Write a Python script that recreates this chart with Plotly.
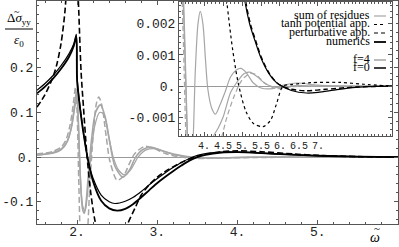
import plotly.graph_objects as go

# ---------------- main panel data (omega, delta sigma / eps0) ----------------
w_num0 = [1.5, 1.6, 1.7, 1.8, 1.9, 1.96, 1.99, 2.0, 2.05, 2.1, 2.14, 2.2, 2.3, 2.4, 2.5, 2.6, 2.7, 2.8,
          2.9, 3.0, 3.1, 3.2, 3.3, 3.4, 3.5, 3.6, 3.8, 4.0, 4.3, 4.6, 5.0, 5.5, 6.0]
v_num0 = [0.143, 0.158, 0.176, 0.198, 0.225, 0.250, 0.270, 0.170, 0.090, 0.030, -0.010, -0.055, -0.098,
          -0.115, -0.120, -0.116, -0.105, -0.090, -0.074, -0.058, -0.044, -0.031, -0.019, -0.008, 0.0,
          0.005, 0.010, 0.011, 0.009, 0.006, 0.003, 0.001, 0.0]

w_res0 = [1.5, 1.6, 1.7, 1.8, 1.9, 1.96, 1.99, 2.0, 2.05, 2.1, 2.14, 2.2, 2.3, 2.4, 2.47, 2.6, 2.7, 2.8,
          2.9, 3.0, 3.1, 3.2, 3.3, 3.4, 3.5, 3.7, 3.9, 4.2, 4.6, 5.0, 5.5, 6.0]
v_res0 = [0.150, 0.165, 0.183, 0.205, 0.232, 0.255, 0.275, 0.180, 0.095, 0.030, -0.010, -0.048, -0.085,
          -0.100, -0.104, -0.099, -0.090, -0.077, -0.062, -0.048, -0.035, -0.023, -0.012, -0.003, 0.004,
          0.010, 0.012, 0.010, 0.006, 0.003, 0.001, 0.0]

w_pert0 = [1.5, 1.6, 1.7, 1.75, 1.8, 1.85, 1.9, 1.95, 2.0, 2.02, 2.05, 2.08, 2.12, 2.17, 2.22, 2.3, 2.42,
           2.52, 2.63, 2.72, 2.8, 2.9, 3.0, 3.1, 3.3, 3.5, 3.8, 4.0, 4.3, 4.7, 5.0, 5.5, 6.0]
v_pert0 = [0.112, 0.140, 0.180, 0.210, 0.255, 0.330, 0.500, 0.800, 0.420, 0.330, 0.190, 0.110, 0.010,
           -0.080, -0.140, -0.200, -0.230, -0.210, -0.150, -0.115, -0.085, -0.062, -0.045, -0.032,
           -0.012, 0.002, 0.012, 0.014, 0.012, 0.007, 0.004, 0.001, 0.0]

w_num4 = [1.5, 1.6, 1.7, 1.8, 1.86, 1.92, 1.96, 1.99, 2.01, 2.03, 2.05, 2.07, 2.09, 2.11, 2.14, 2.18, 2.23,
          2.29, 2.35, 2.41, 2.47, 2.57, 2.65, 2.73, 2.82, 2.93, 3.05, 3.2, 3.35, 3.5, 3.7, 4.0, 4.5, 5.0, 6.0]
v_num4 = [0.005, 0.007, 0.010, 0.018, 0.030, 0.060, 0.105, 0.145, 0.100, 0.0, -0.080, -0.118, -0.126,
          -0.105, -0.040, 0.040, 0.100, 0.117, 0.090, 0.030, -0.020, -0.045, -0.030, 0.0, 0.017, 0.022,
          0.015, 0.007, 0.002, -0.001, -0.002, -0.001, 0.0, 0.0, 0.0]

w_res4 = [1.5, 1.7, 1.8, 1.88, 1.94, 1.98, 2.0, 2.02, 2.04, 2.07, 2.1, 2.13, 2.17, 2.22, 2.28, 2.33, 2.39,
          2.45, 2.52, 2.6, 2.68, 2.76, 2.86, 2.97, 3.1, 3.25, 3.4, 3.6, 3.9, 4.3, 5.0, 6.0]
v_res4 = [0.004, 0.009, 0.016, 0.035, 0.075, 0.120, 0.130, 0.060, -0.040, -0.110, -0.120, -0.080, 0.0,
          0.070, 0.100, 0.097, 0.050, 0.0, -0.030, -0.040, -0.025, 0.0, 0.016, 0.019, 0.012, 0.004,
          0.0, -0.002, -0.001, 0.0, 0.0, 0.0]

w_pert4 = [1.5, 1.6, 1.7, 1.8, 1.86, 1.91, 1.95, 1.98, 2.0, 2.02, 2.04, 2.07, 2.1, 2.13, 2.16, 2.2, 2.24,
           2.27, 2.31, 2.36, 2.41, 2.5, 2.58, 2.65, 2.72, 2.84, 2.95, 3.1, 3.3, 3.5, 3.8, 4.2, 5.0, 6.0]
v_pert4 = [0.007, 0.009, 0.013, 0.022, 0.038, 0.070, 0.115, 0.157, 0.100, -0.050, -0.180, -0.260, -0.250,
           -0.170, -0.060, 0.050, 0.120, 0.135, 0.115, 0.050, -0.010, -0.052, -0.042, -0.015, 0.008,
           0.024, 0.020, 0.008, 0.0, -0.003, -0.002, -0.001, 0.0, 0.0]

# ---------------- inset data ----------------
iw_num0 = [4.9, 5.08, 5.2, 5.34, 5.5, 5.7, 5.9, 6.05, 6.3, 6.7, 7.0, 7.5, 8.0, 8.5, 9.0]
iv_num0 = [0.0045, 0.0027, 0.0020, 0.00146, 0.0009, 0.00042, 0.00012, 0.0, -0.00014, -0.00022, -0.0002,
           -0.00011, -0.00004, -0.00001, 0.0]
iw_pert0 = [4.92, 5.1, 5.22, 5.36, 5.5, 5.7, 5.9, 6.05, 6.3, 6.7, 7.2, 8.0, 9.0]
iv_pert0 = [0.0045, 0.0027, 0.0020, 0.00146, 0.00095, 0.00045, 0.00013, 0.0, -0.0001, -0.00015, -0.0001,
            -0.00003, 0.0]
iw_tanh0 = [4.45, 4.6, 4.75, 4.9, 5.1, 5.3, 5.55, 5.75, 5.9, 6.08, 6.3, 6.8, 7.6, 8.2, 9.0]
iv_tanh0 = [0.0045, 0.0027, 0.0012, 0.0001, -0.0008, -0.0012, -0.0013, -0.0011, -0.0006, 0.0, 0.00005,
            0.00011, 0.00012, 0.00006, 0.0]
iw_res4 = [3.40, 3.47, 3.52, 3.57, 3.64, 3.71, 3.77, 3.84, 3.9, 3.97, 4.04, 4.1, 4.2, 4.3, 4.42, 4.55, 4.7,
           4.85, 4.97, 5.1, 5.3, 5.5, 5.8, 6.1, 6.45, 7.0, 8.0, 9.0]
iv_res4 = [0.0045, 0.0020, 0.0, -0.0020, -0.0032, -0.0018, 0.0005, 0.0020, 0.0024, 0.0020, 0.0008, -0.0001,
           -0.0007, -0.0009, -0.0006, -0.0002, 0.0003, 0.00052, 0.00057, 0.00045, 0.0001, -0.00006,
           -0.00008, 0.00003, 0.0001, 0.00003, 0.0, 0.0]
iw_num4 = [3.42, 3.5, 3.56, 3.62, 3.75, 3.95, 4.15, 4.25, 4.37, 4.5, 4.7, 4.85, 5.05, 5.2, 5.4, 5.65, 5.95,
           6.4, 7.0, 9.0]
iv_num4 = [0.0045, 0.0012, -0.0015, -0.0032, -0.0040, -0.0032, -0.0020, -0.0016, -0.00135, -0.0010,
           -0.0002, 0.0001, 0.0004, 0.00045, 0.0003, 0.00005, -0.00005, 0.00002, 0.0, 0.0]
iw_pert4 = [3.38, 3.46, 3.52, 3.58, 3.7, 3.9, 4.15, 4.35, 4.47, 4.6, 4.8, 5.0, 5.2, 5.35, 5.6, 5.9, 6.3,
            7.0, 9.0]
iv_pert4 = [0.0045, 0.0012, -0.0016, -0.0035, -0.0045, -0.0042, -0.0030, -0.0020, -0.0016, -0.0010,
            -0.0003, 0.0002, 0.0004, 0.00038, 0.0001, -0.00008, -0.00002, 0.0, 0.0]

main_xticks = [2, 3, 4, 5]
main_xtext = ["2.", "3.", "4.", "5."]
main_yticks = [-0.1, 0.0, 0.1, 0.2]
main_ytext = ["-0.1", "0.", "0.1", "0.2"]
ins_xticks = [4, 4.5, 5, 5.5, 6, 6.5, 7]
ins_xtext = ["4.", "4.5", "5.", "5.5", "6.", "6.5", "7."]
ins_yticks = [-0.001, 0.0, 0.001, 0.002]
ins_ytext = ["-0.001", "0.", "0.001", "0.002"]

legend_labels = ["sum of residues", "tanh potential app.", "perturbative app.", "numerics", "f=4", "f=0"]

GREY = "#a6a6a6"
BLACK = "#000000"

W, H = 399, 247
L, R, T, B = 37, 1, 1, 23
PW, PH = W - L - R, H - T - B


def px(xp):
    return (xp - L) / PW


def py(yp):
    return (H - B - yp) / PH


fig = go.Figure()


def add(x, y, color, width, dash, ax):
    fig.add_trace(go.Scatter(
        x=x, y=y, mode="lines", showlegend=False, hoverinfo="skip",
        xaxis="x" if ax == 1 else "x2", yaxis="y" if ax == 1 else "y2",
        line=dict(color=color, width=width, dash=dash, shape="spline", smoothing=0.8)))


# main
add(w_res4, v_res4, GREY, 1.3, "solid", 1)
add(w_num4, v_num4, GREY, 1.6, "solid", 1)
add(w_pert4, v_pert4, GREY, 1.5, "6px,3px", 1)
add(w_res0, v_res0, BLACK, 1.2, "solid", 1)
add(w_num0, v_num0, BLACK, 1.8, "solid", 1)
add(w_pert0, v_pert0, BLACK, 1.6, "6px,3px", 1)
# inset
add(iw_res4, iv_res4, GREY, 1.2, "solid", 2)
add(iw_num4, iv_num4, GREY, 1.2, "solid", 2)
add(iw_pert4, iv_pert4, GREY, 1.2, "5px,3px", 2)
add(iw_tanh0, iv_tanh0, BLACK, 1.2, "dot", 2)
add(iw_pert0, iv_pert0, BLACK, 1.4, "5px,3px", 2)
add(iw_num0, iv_num0, BLACK, 1.2, "solid", 2)

mono = "Liberation Mono, Courier New, monospace"
axcommon = dict(showline=True, linecolor="#555", linewidth=1, mirror="allticks", ticks="inside",
                ticklen=4, tickcolor="#555", showgrid=False, automargin=False)

fig.update_layout(
    template="none",
    width=W, height=H, margin=dict(l=L, r=R, t=T, b=B, autoexpand=False),
    paper_bgcolor="white", plot_bgcolor="white",
    xaxis=dict(domain=[0, 1], range=[1.5, 6.0], tickmode="array", tickvals=main_xticks,
               ticktext=main_xtext, zeroline=False, tickangle=0, ticklabelstandoff=-5,
               tickfont=dict(family=mono, size=13, color="#222"),
               minor=dict(ticks="inside", ticklen=2, tickmode="linear", tick0=0, dtick=0.2,
                          tickcolor="#555"), **axcommon),
    yaxis=dict(domain=[0, 1], range=[-0.15, 0.35], tickmode="array", tickvals=main_yticks,
               ticktext=main_ytext, zeroline=True, zerolinecolor="#999", zerolinewidth=1,
               tickfont=dict(family=mono, size=13, color="#222"),
               minor=dict(ticks="inside", ticklen=2, tickmode="linear", tick0=0, dtick=0.02,
                          tickcolor="#555"), **axcommon),
    xaxis2=dict(domain=[px(179), px(392)], anchor="y2", range=[3.34, 8.95], tickmode="array",
                tickvals=ins_xticks, ticktext=ins_xtext, zeroline=False, tickangle=0,
                tickfont=dict(family=mono, size=10, color="#222"),
                minor=dict(ticks="inside", ticklen=2, tickmode="linear", tick0=0, dtick=0.1,
                           tickcolor="#555"), **axcommon),
    yaxis2=dict(domain=[py(136), py(2)], anchor="x2", range=[-0.0016, 0.0027], tickmode="array",
                tickvals=ins_yticks, ticktext=ins_ytext, zeroline=True, zerolinecolor="#999",
                zerolinewidth=1, tickfont=dict(family=mono, size=13, color="#222"),
                minor=dict(ticks="inside", ticklen=2, tickmode="linear", tick0=0, dtick=0.0002,
                           tickcolor="#555"), **axcommon),
)

serif = "Liberation Serif, Times New Roman, serif"
ann = []
# y-axis fraction label
ann.append(dict(x=px(19), y=py(18), xref="paper", yref="paper", showarrow=False,
                xanchor="center", yanchor="middle",
                text="Δ<i>σ</i><sub>yy</sub>", font=dict(family=serif, size=13, color="black")))
ann.append(dict(x=px(17), y=py(11), xref="paper", yref="paper", showarrow=False,
                xanchor="center", yanchor="middle",
                text="~", font=dict(family=serif, size=10, color="black")))
ann.append(dict(x=px(19), y=py(41), xref="paper", yref="paper", showarrow=False,
                xanchor="center", yanchor="middle",
                text="<i>ε</i><sub>0</sub>", font=dict(family=serif, size=13, color="black")))
# x-axis label (omega with tilde above)
ann.append(dict(x=px(375), y=py(237), xref="paper", yref="paper", showarrow=False,
                xanchor="center", yanchor="middle",
                text="<i>ω</i>", font=dict(family=serif, size=14, color="black")))
ann.append(dict(x=px(377), y=py(228), xref="paper", yref="paper", showarrow=False,
                xanchor="center", yanchor="middle",
                text="~", font=dict(family=serif, size=11, color="black")))
# legend texts
rows = [15, 23.5, 32, 41, 59, 67]
for lab, yy in zip(legend_labels, rows):
    ann.append(dict(x=px(372), y=py(yy), xref="paper", yref="paper", showarrow=False,
                    xanchor="right", yanchor="middle", text=lab,
                    font=dict(family=serif, size=12, color="black")))

shapes = [dict(type="line", xref="paper", yref="paper", x0=px(5), x1=px(33), y0=py(29), y1=py(29),
               line=dict(color="black", width=1))]
samples = [(GREY, 1.2, "solid"), (BLACK, 1.2, "dot"), (BLACK, 1.2, "4px,3px"), (BLACK, 1.8, "solid"),
           (GREY, 1.5, "solid"), (BLACK, 1.5, "solid")]
for (c, wd, d), yy in zip(samples, rows):
    shapes.append(dict(type="line", xref="paper", yref="paper", x0=px(374), x1=px(386),
                       y0=py(yy + 1), y1=py(yy + 1), line=dict(color=c, width=wd, dash=d)))

fig.update_layout(annotations=ann, shapes=shapes)
fig.write_html("out.html", config={"displayModeBar": False},
               post_script="document.body.style.margin='0';document.body.style.overflow='hidden';")
